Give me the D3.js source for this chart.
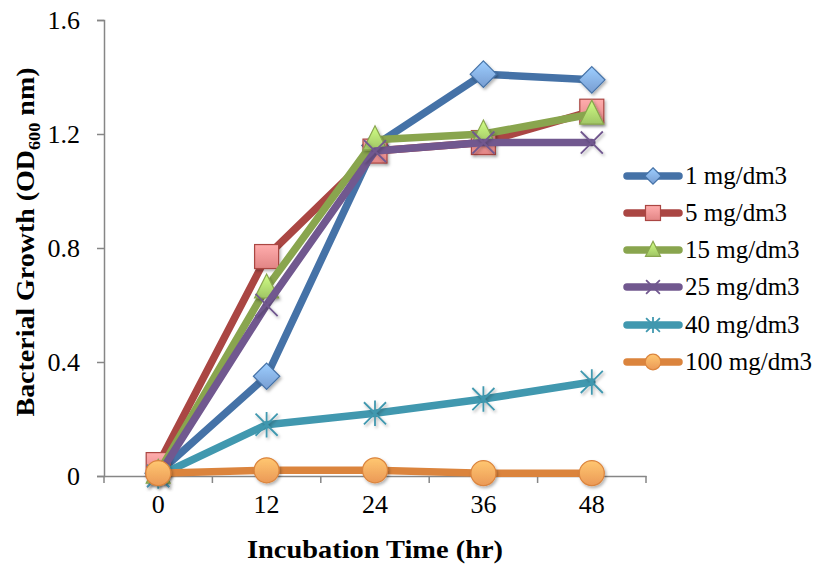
<!DOCTYPE html>
<html><head><meta charset="utf-8">
<script src="https://cdn.jsdelivr.net/npm/d3@7"></script>
<style>body{margin:0;background:#fff}svg{display:block}</style>
</head><body>
<svg id="c" width="821" height="565"></svg>
<script>
const categories = ["0","12","24","36","48"];
const seriesNames = ["1 mg/dm3","5 mg/dm3","15 mg/dm3","25 mg/dm3","40 mg/dm3","100 mg/dm3"];
const s1 = [0.01, 0.35, 1.16, 1.41, 1.39];
const s5 = [0.04, 0.77, 1.14, 1.17, 1.28];
const s15 = [0.01, 0.66, 1.18, 1.20, 1.27];
const s25 = [0.0, 0.60, 1.14, 1.17, 1.17];
const s40 = [0.0, 0.18, 0.22, 0.27, 0.33];
const s100 = [0.01, 0.02, 0.02, 0.01, 0.01];
const yTicks = [0, 0.4, 0.8, 1.2, 1.6];
const allSeries = [s1, s5, s15, s25, s40, s100];

const lineColors = ["#4572A7","#AA4643","#89A54E","#71588F","#4198AF","#DB843D"];
const fillColors = ["#7FA6DC","#EE8C8C","#A9D06B","#8E74AE","#4198AF","#F8A15B"];
const shapes = ["diamond","square","triangle","x","star","circle"];

const svg = d3.select("#c");
const font = "'Liberation Serif', 'DejaVu Serif', serif";
const x = d3.scaleBand().domain(categories).range([104, 646]);
const y = d3.scaleLinear().domain([0, 1.6]).range([476, 20]);

const defs = svg.append("defs");
fillColors.forEach((c, i) => {
  const g = defs.append("linearGradient").attr("id", "g" + i).attr("x1", 0).attr("y1", 0).attr("x2", 0).attr("y2", 1);
  g.append("stop").attr("offset", "0%").attr("stop-color", d3.color(c).brighter(0.6));
  g.append("stop").attr("offset", "100%").attr("stop-color", d3.color(c).darker(0.15));
});
const flt = defs.append("filter").attr("id", "sh").attr("x", "-50%").attr("y", "-50%").attr("width", "200%").attr("height", "200%");
flt.append("feDropShadow").attr("dx", 1.5).attr("dy", 2).attr("stdDeviation", 1.5).attr("flood-color", "#000").attr("flood-opacity", 0.3);

// Y axis
const yAxis = d3.axisLeft(y).tickValues(yTicks).tickFormat(d => d === 0 ? "0" : d3.format(".1f")(d)).tickSize(7).tickPadding(17);
const gy = svg.append("g").attr("transform", "translate(104,0)").call(yAxis);
gy.select(".domain").attr("stroke", "#868686").attr("stroke-width", 1.5);
gy.selectAll(".tick line").attr("stroke", "#868686").attr("stroke-width", 1.5);
gy.selectAll(".tick text").attr("font-family", font).attr("font-size", 26).attr("fill", "#000").attr("dy", "0.34em");

// X axis
const xAxis = d3.axisBottom(x).tickSize(0).tickPadding(24);
const gx = svg.append("g").attr("transform", "translate(0,476)").call(xAxis);
gx.select(".domain").attr("stroke", "#868686").attr("stroke-width", 1.5);
gx.selectAll(".tick text").attr("font-family", font).attr("font-size", 26).attr("fill", "#000").attr("dy", "0.5em");
const bounds = categories.map(c => x(c)).concat([x.range()[1]]);
gx.selectAll(".bt").data(bounds).enter().append("line")
  .attr("x1", d => d).attr("x2", d => d).attr("y1", 0).attr("y2", 7)
  .attr("stroke", "#868686").attr("stroke-width", 1.5);

// titles
svg.append("text").attr("x", 375).attr("y", 558).attr("text-anchor", "middle")
  .attr("font-family", font).attr("font-weight", "bold").attr("font-size", 26)
  .attr("textLength", 256).attr("lengthAdjust", "spacingAndGlyphs").text("Incubation Time (hr)");
const yt = svg.append("text").attr("transform", "translate(34,242) rotate(-90)").attr("text-anchor", "middle")
  .attr("font-family", font).attr("font-weight", "bold").attr("font-size", 26)
  .attr("textLength", 349).attr("lengthAdjust", "spacingAndGlyphs");
yt.append("tspan").text("Bacterial Growth (OD");
yt.append("tspan").attr("font-size", 17).attr("dy", 6).text("600");
yt.append("tspan").attr("dy", -6).text(" nm)");

function marker(g, shape, i, cx, cy, s, shadow) {
  const stroke = lineColors[i], fill = "url(#g" + i + ")";
  let m;
  if (shape === "diamond") {
    m = g.append("path").attr("d", `M${cx},${cy - s * 0.55}L${cx + s * 0.55},${cy}L${cx},${cy + s * 0.55}L${cx - s * 0.55},${cy}Z`)
      .attr("fill", fill).attr("stroke", stroke).attr("stroke-width", 1.2);
  } else if (shape === "square") {
    m = g.append("rect").attr("x", cx - s / 2).attr("y", cy - s / 2).attr("width", s).attr("height", s)
      .attr("fill", fill).attr("stroke", stroke).attr("stroke-width", 1.2);
  } else if (shape === "triangle") {
    m = g.append("path").attr("d", `M${cx},${cy - s * 0.58}L${cx + s * 0.5},${cy + s * 0.42}L${cx - s * 0.5},${cy + s * 0.42}Z`)
      .attr("fill", fill).attr("stroke", stroke).attr("stroke-width", 1.2);
  } else if (shape === "x") {
    const h = s * 0.46;
    m = g.append("path").attr("d", `M${cx - h},${cy - h}L${cx + h},${cy + h}M${cx - h},${cy + h}L${cx + h},${cy - h}`)
      .attr("stroke", stroke).attr("stroke-width", 1.8).attr("fill", "none");
  } else if (shape === "star") {
    const h = s * 0.46;
    m = g.append("path").attr("d", `M${cx - h},${cy - h}L${cx + h},${cy + h}M${cx - h},${cy + h}L${cx + h},${cy - h}M${cx},${cy - h * 1.15}L${cx},${cy + h * 1.15}`)
      .attr("stroke", stroke).attr("stroke-width", 1.8).attr("fill", "none");
  } else if (shape === "circle") {
    m = g.append("circle").attr("cx", cx).attr("cy", cy).attr("r", s * 0.52)
      .attr("fill", fill).attr("stroke", stroke).attr("stroke-width", 1.2);
  }
  if (shadow) m.attr("filter", "url(#sh)");
}

const line = d3.line().x((d, j) => x(categories[j]) + x.bandwidth() / 2).y(d => y(d));
allSeries.forEach((data, i) => {
  const g = svg.append("g");
  g.append("path").datum(data).attr("d", line).attr("fill", "none")
    .attr("stroke", lineColors[i]).attr("stroke-width", 7.5).attr("stroke-linejoin", "round").attr("stroke-linecap", "round");
  data.forEach((v, j) => marker(g, shapes[i], i, x(categories[j]) + x.bandwidth() / 2, y(v), 24, true));
});

// legend
const legY = [176, 213, 250, 287, 325, 362];
seriesNames.forEach((name, i) => {
  const g = svg.append("g");
  g.append("line").attr("x1", 627).attr("x2", 679).attr("y1", legY[i]).attr("y2", legY[i])
    .attr("stroke", lineColors[i]).attr("stroke-width", 7.5).attr("stroke-linecap", "round");
  marker(g, shapes[i], i, 653, legY[i], 15, false);
  g.append("text").attr("x", 685).attr("y", legY[i] + 8).attr("font-family", font).attr("font-size", 25).text(name);
});
</script>
</body></html>
